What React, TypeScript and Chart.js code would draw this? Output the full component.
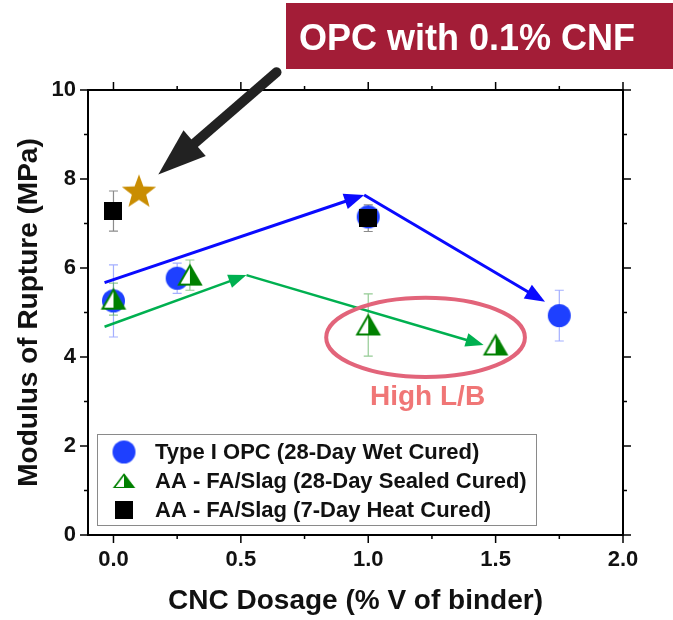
import React, { useEffect, useRef } from 'react';
import { Chart, registerables } from 'chart.js';

Chart.register(...registerables);

// ---------------- data ----------------
const xOPC = [0, 0.25, 1.0, 1.75];
const yOPC = [5.26, 5.77, 7.15, 4.93];
const eOPC = [0.81, 0.34, 0.2, 0.57];

const xSealed = [0, 0.3, 1.0, 1.5];
const ySealed = [5.3, 5.84, 4.72, 4.27];
const eSealed = [0.36, 0.34, 0.7, 0.1];

const xHeat = [0, 1.0];
const yHeat = [7.28, 7.12];
const eHeat = [0.45, 0.3];

const xCNF = [0.1];
const yCNF = [7.74];

const xMajorTicks = [0, 0.5, 1.0, 1.5, 2.0];
const xMinorTicks = [0.25, 0.75, 1.25, 1.75];
const yMajorTicks = [0, 2, 4, 6, 8, 10];
const yMinorTicks = [1, 3, 5, 7, 9];

const legendLabels = [
  'Type I OPC (28-Day Wet Cured)',
  'AA - FA/Slag (28-Day Sealed Cured)',
  'AA - FA/Slag (7-Day Heat Cured)',
];

// trend arrows (data units)
const blueArrowX = [-0.035, 0.984, 1.694];
const blueArrowY = [5.67, 7.64, 5.24];
const greenArrowX = [-0.035, 0.522, 1.453];
const greenArrowY = [4.68, 5.84, 4.27];

// "High L/B" ellipse (data units)
const ellipseCenter = [1.225, 4.44];
const ellipseRadius = [0.39, 0.89];

// callout arrow (data units, tail above the plot)
const calloutArrowX = [0.64, 0.176];
const calloutArrowY = [10.4, 8.1];

const FONT = "'Liberation Sans', Arial, sans-serif";
const BLUE = '#1e40ff';
const GREEN = '#008000';

// ---------------- marker images ----------------
function makeCircle(r: number) {
  const c = document.createElement('canvas');
  c.width = c.height = Math.ceil(r * 2 + 2);
  const g = c.getContext('2d')!;
  g.fillStyle = BLUE;
  g.beginPath();
  g.arc(c.width / 2, c.height / 2, r, 0, Math.PI * 2);
  g.fill();
  return c;
}
function makeHalfTriangle(w: number, h: number) {
  const c = document.createElement('canvas');
  c.width = w + 4;
  c.height = h + 4;
  const g = c.getContext('2d')!;
  const ax = c.width / 2, ay = 2, lx = 2, rx = w + 2, by = h + 2;
  g.fillStyle = '#fff';
  g.beginPath(); g.moveTo(ax, ay); g.lineTo(rx, by); g.lineTo(lx, by); g.closePath(); g.fill();
  g.fillStyle = GREEN;
  g.beginPath(); g.moveTo(ax, ay); g.lineTo(rx, by); g.lineTo(ax, by); g.closePath(); g.fill();
  g.strokeStyle = GREEN; g.lineWidth = 2; g.lineJoin = 'miter';
  g.beginPath(); g.moveTo(ax, ay + 1); g.lineTo(rx - 1, by - 1); g.lineTo(lx + 1, by - 1); g.closePath(); g.stroke();
  return c;
}
function makeSquare(s: number) {
  const c = document.createElement('canvas');
  c.width = c.height = s;
  const g = c.getContext('2d')!;
  g.fillStyle = '#000';
  g.fillRect(0, 0, s, s);
  return c;
}
function makeStar(R: number, r: number) {
  const c = document.createElement('canvas');
  c.width = c.height = Math.ceil(R * 2 + 2);
  const g = c.getContext('2d')!;
  const cx = c.width / 2, cy = c.height / 2 + R * 0.1;
  g.fillStyle = '#c98d02';
  g.beginPath();
  for (let i = 0; i < 10; i++) {
    const rad = i % 2 === 0 ? R : r;
    const a = -Math.PI / 2 + (i * Math.PI) / 5;
    const px = cx + rad * Math.cos(a), py = cy + rad * Math.sin(a);
    if (i === 0) g.moveTo(px, py); else g.lineTo(px, py);
  }
  g.closePath();
  g.fill();
  return c;
}

function drawArrow(ctx: CanvasRenderingContext2D, x0: number, y0: number, x1: number, y1: number,
  color: string, lw: number, hl: number, hw: number, cap: CanvasLineCap = 'butt') {
  const ang = Math.atan2(y1 - y0, x1 - x0);
  const bx = x1 - hl * Math.cos(ang), by = y1 - hl * Math.sin(ang);
  ctx.save();
  ctx.strokeStyle = color; ctx.lineWidth = lw; ctx.lineCap = cap;
  ctx.beginPath(); ctx.moveTo(x0, y0); ctx.lineTo(bx + Math.cos(ang) * 2, by + Math.sin(ang) * 2); ctx.stroke();
  ctx.fillStyle = color;
  ctx.beginPath(); ctx.moveTo(x1, y1);
  ctx.lineTo(bx + hw * Math.sin(ang), by - hw * Math.cos(ang));
  ctx.lineTo(bx - hw * Math.sin(ang), by + hw * Math.cos(ang));
  ctx.closePath(); ctx.fill();
  ctx.restore();
}

export default function App() {
  const ref = useRef<HTMLCanvasElement | null>(null);

  useEffect(() => {
    const circleImg = makeCircle(11.5);
    const triImg = makeHalfTriangle(24, 21);
    const squareImg = makeSquare(18);
    const starImg = makeStar(18, 7.5);

    const toPts = (xs: number[], ys: number[]) => xs.map((x, i) => ({ x, y: ys[i] }));

    const errorSets = [
      { xs: xOPC, ys: yOPC, es: eOPC, color: 'rgba(90,110,255,0.55)' },
      { xs: xSealed, ys: ySealed, es: eSealed, color: 'rgba(60,160,60,0.55)' },
      { xs: xHeat, ys: yHeat, es: eHeat, color: 'rgba(110,110,110,0.8)' },
    ];

    const plugin = {
      id: 'decor',
      beforeDatasetsDraw(chart: any) {
        const ctx = chart.ctx as CanvasRenderingContext2D;
        const xs = chart.scales.x, ys = chart.scales.y;
        ctx.save();
        ctx.lineWidth = 1.2;
        for (const s of errorSets) {
          ctx.strokeStyle = s.color;
          s.xs.forEach((x, i) => {
            const px = xs.getPixelForValue(x);
            const top = ys.getPixelForValue(s.ys[i] + s.es[i]);
            const bot = ys.getPixelForValue(s.ys[i] - s.es[i]);
            ctx.beginPath();
            ctx.moveTo(px, top); ctx.lineTo(px, bot);
            ctx.moveTo(px - 4.5, top); ctx.lineTo(px + 4.5, top);
            ctx.moveTo(px - 4.5, bot); ctx.lineTo(px + 4.5, bot);
            ctx.stroke();
          });
        }
        ctx.restore();
      },
      afterDatasetsDraw(chart: any) {
        const ctx = chart.ctx as CanvasRenderingContext2D;
        const xs = chart.scales.x, ys = chart.scales.y;
        const P = (x: number, y: number) => [xs.getPixelForValue(x), ys.getPixelForValue(y)];
        for (let i = 0; i < blueArrowX.length - 1; i++) {
          const [a, b] = P(blueArrowX[i], blueArrowY[i]);
          const [c, d] = P(blueArrowX[i + 1], blueArrowY[i + 1]);
          drawArrow(ctx, a, b, c, d, '#0a0aff', 3, 20, 8);
        }
        for (let i = 0; i < greenArrowX.length - 1; i++) {
          const [a, b] = P(greenArrowX[i], greenArrowY[i]);
          const [c, d] = P(greenArrowX[i + 1], greenArrowY[i + 1]);
          drawArrow(ctx, a, b, c, d, '#00b050', 2.5, 18, 7);
        }
        // ellipse
        const [ecx, ecy] = P(ellipseCenter[0], ellipseCenter[1]);
        const erx = Math.abs(xs.getPixelForValue(ellipseCenter[0] + ellipseRadius[0]) - ecx);
        const ery = Math.abs(ys.getPixelForValue(ellipseCenter[1] + ellipseRadius[1]) - ecy);
        ctx.save();
        ctx.strokeStyle = '#e2647a';
        ctx.lineWidth = 4;
        ctx.beginPath();
        ctx.ellipse(ecx, ecy, erx, ery, 0, 0, Math.PI * 2);
        ctx.stroke();
        ctx.fillStyle = '#f07676';
        ctx.font = `bold 28px ${FONT}`;
        ctx.textAlign = 'center';
        ctx.textBaseline = 'alphabetic';
        ctx.fillText('High L/B', ecx + 2, ecy + ery + 28);
        ctx.restore();
      },
      afterDraw(chart: any) {
        const ctx = chart.ctx as CanvasRenderingContext2D;
        const xs = chart.scales.x, ys = chart.scales.y;
        const { left, right, top, bottom } = chart.chartArea;
        ctx.save();
        // frame
        ctx.strokeStyle = '#000';
        ctx.lineWidth = 2;
        ctx.strokeRect(left, top, right - left, bottom - top);
        // ticks
        ctx.lineWidth = 1.5;
        ctx.beginPath();
        const xt = (v: number, len: number) => {
          const px = xs.getPixelForValue(v);
          ctx.moveTo(px, bottom); ctx.lineTo(px, bottom + len);
          ctx.moveTo(px, top); ctx.lineTo(px, top - len);
        };
        const yt = (v: number, len: number) => {
          const py = ys.getPixelForValue(v);
          ctx.moveTo(left, py); ctx.lineTo(left - len, py);
          ctx.moveTo(right, py); ctx.lineTo(right + len, py);
        };
        xMajorTicks.forEach(v => xt(v, 8));
        xMinorTicks.forEach(v => xt(v, 4));
        yMajorTicks.forEach(v => yt(v, 8));
        yMinorTicks.forEach(v => yt(v, 4));
        ctx.stroke();

        // legend
        ctx.fillStyle = '#fff';
        ctx.fillRect(97, 434, 439, 91);
        ctx.strokeStyle = '#8a8a8a';
        ctx.lineWidth = 1;
        ctx.strokeRect(97.5, 434.5, 439, 91);
        const imgs = [circleImg, triImg, squareImg];
        const rowsY = [452, 481, 510];
        ctx.font = `bold 22px ${FONT}`;
        ctx.textAlign = 'left';
        ctx.textBaseline = 'middle';
        ctx.fillStyle = '#111';
        imgs.forEach((im, i) => {
          const h = i === 1 ? 17 : im.height;
          const w = i === 1 ? 25 : im.width;
          ctx.drawImage(im, 124 - w / 2, rowsY[i] - h / 2, w, h);
          ctx.fillText(legendLabels[i], 155, rowsY[i] + 1);
        });

        // banner
        ctx.fillStyle = '#a31d37';
        ctx.fillRect(286, 3, 673 - 286, 66);
        ctx.fillStyle = '#fff';
        ctx.font = `bold 36px ${FONT}`;
        ctx.textAlign = 'center';
        ctx.textBaseline = 'alphabetic';
        ctx.fillText('OPC with 0.1% CNF', 467, 50);

        // callout arrow
        drawArrow(ctx,
          xs.getPixelForValue(calloutArrowX[0]), ys.getPixelForValue(calloutArrowY[0]),
          xs.getPixelForValue(calloutArrowX[1]), ys.getPixelForValue(calloutArrowY[1]),
          '#222', 10, 48, 17, 'round');
        ctx.restore();
      },
    };

    const chart = new Chart(ref.current!, {
      type: 'scatter',
      data: {
        datasets: [
          { label: 'OPC with 0.1% CNF', data: toPts(xCNF, yCNF), pointStyle: starImg as any, pointRadius: 18, order: 0 },
          { label: legendLabels[2], data: toPts(xHeat, yHeat), pointStyle: squareImg as any, pointRadius: 9, order: 1 },
          { label: legendLabels[1], data: toPts(xSealed, ySealed), pointStyle: triImg as any, pointRadius: 12, order: 2 },
          { label: legendLabels[0], data: toPts(xOPC, yOPC), pointStyle: circleImg as any, pointRadius: 12, order: 3 },
        ],
      },
      options: {
        animation: false,
        responsive: false,
        devicePixelRatio: 1,
        events: [],
        layout: { padding: { top: 90, right: 50, left: 0, bottom: 0 } },
        plugins: { legend: { display: false }, tooltip: { enabled: false } },
        scales: {
          x: {
            type: 'linear',
            min: -0.1,
            max: 2.0,
            grid: { display: false, drawTicks: false },
            border: { display: false },
            afterBuildTicks: (s: any) => { s.ticks = xMajorTicks.map(v => ({ value: v })); },
            afterFit: (s: any) => { s.height = 85; },
            ticks: {
              padding: 12,
              color: '#111',
              font: { family: FONT, size: 22, weight: 'bold' },
              callback: (v: any) => Number(v).toFixed(1),
            },
            title: {
              display: true,
              text: 'CNC Dosage (% V of binder)',
              color: '#111',
              font: { family: FONT, size: 28, weight: 'bold' },
              padding: { top: 0, bottom: 2 },
            },
          },
          y: {
            type: 'linear',
            min: 0,
            max: 10,
            grid: { display: false, drawTicks: false },
            border: { display: false },
            afterBuildTicks: (s: any) => { s.ticks = yMajorTicks.map(v => ({ value: v })); },
            afterFit: (s: any) => { s.width = 88; },
            ticks: {
              padding: 12,
              color: '#111',
              font: { family: FONT, size: 22, weight: 'bold' },
            },
            title: {
              display: true,
              text: 'Modulus of Rupture (MPa)',
              color: '#111',
              font: { family: FONT, size: 28, weight: 'bold' },
              padding: { top: 12, bottom: 0 },
            },
          },
        },
      },
      plugins: [plugin],
    } as any);

    return () => chart.destroy();
  }, []);

  return (
    <div style={{ position: 'absolute', left: 0, top: 0, width: 673, height: 620, background: '#fff' }}>
      <canvas ref={ref} width={673} height={620} style={{ display: 'block' }} />
    </div>
  );
}
